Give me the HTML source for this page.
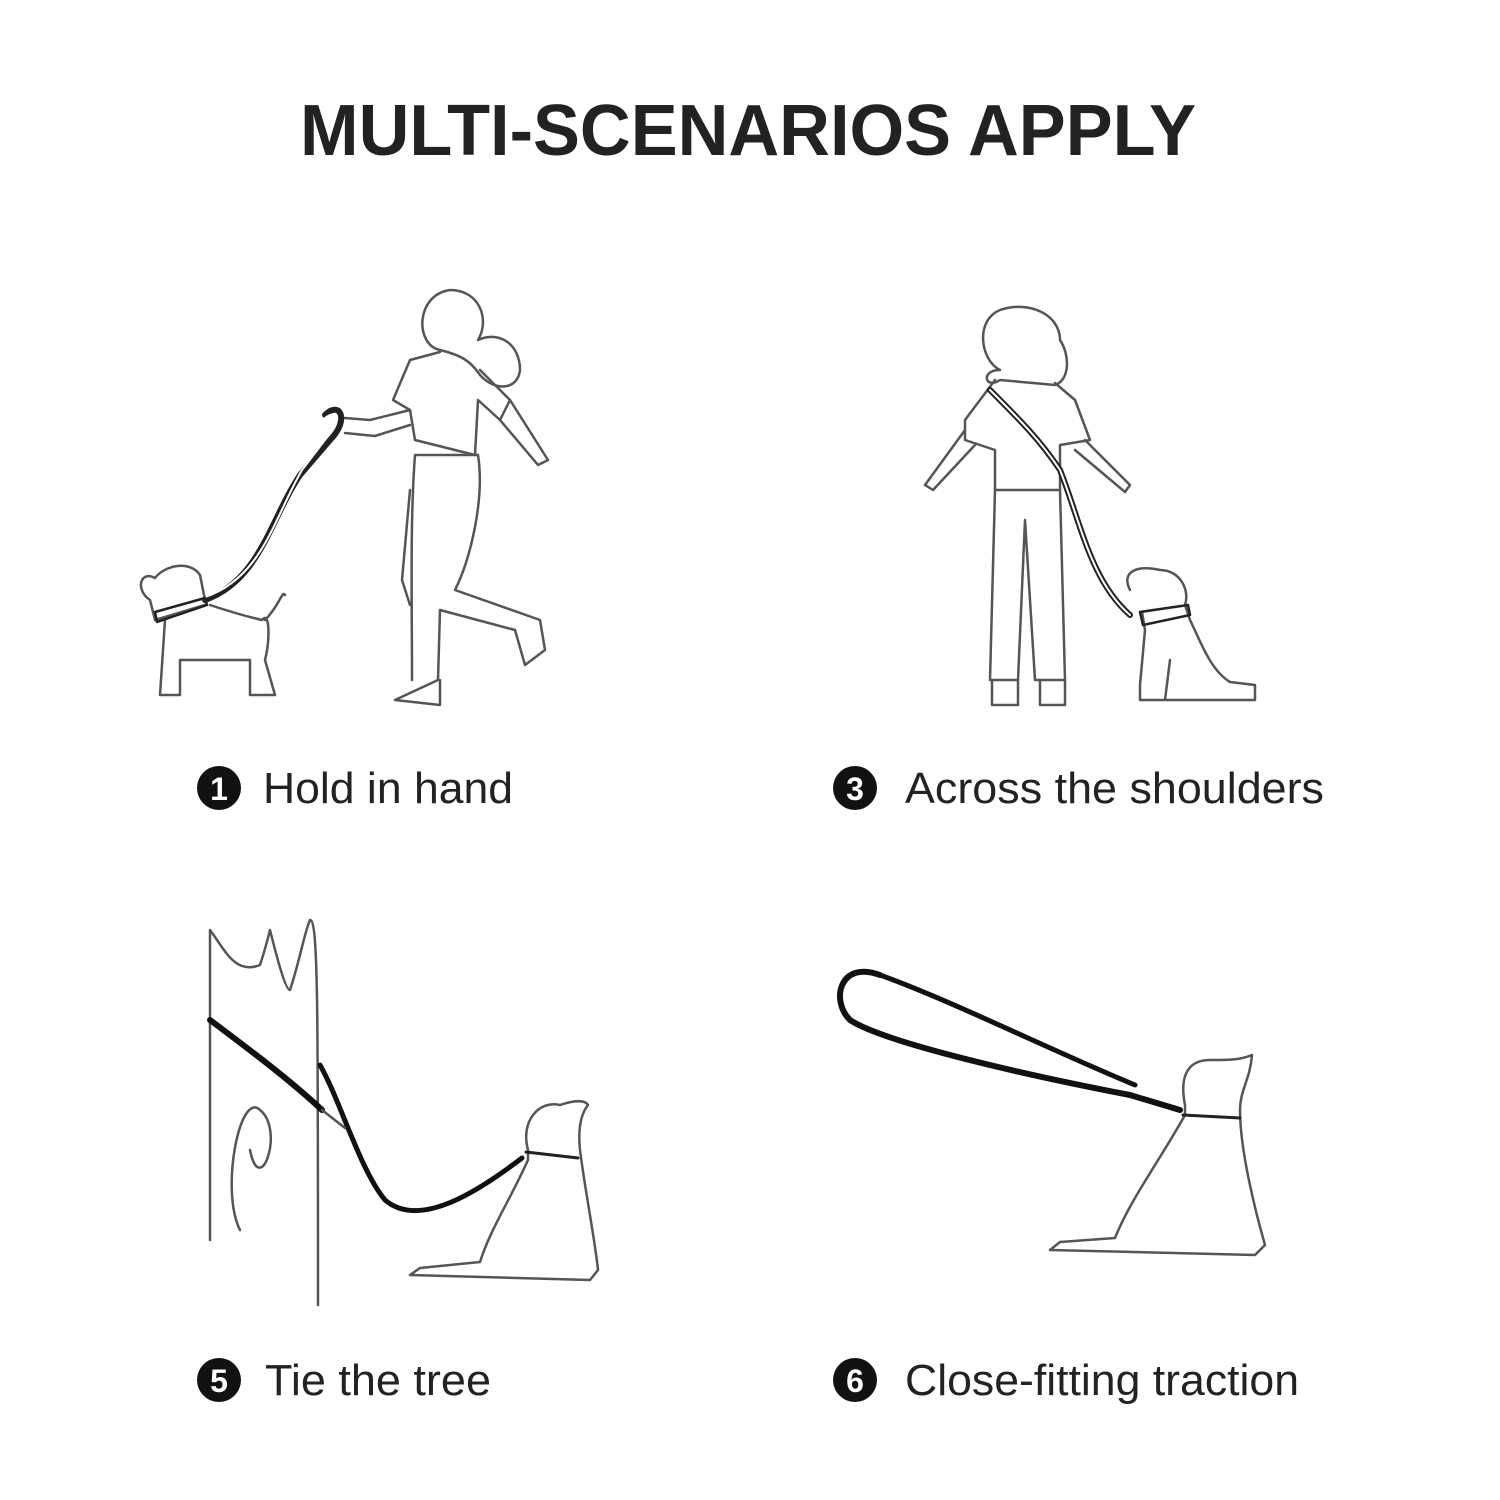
<!DOCTYPE html>
<html><head><style>
html,body{margin:0;padding:0;background:#fff;}
svg{display:block;}
</style></head><body>
<svg width="1500" height="1500" viewBox="0 0 1500 1500" xmlns="http://www.w3.org/2000/svg">
<rect width="1500" height="1500" fill="#fff"/>
<text x="748" y="155" text-anchor="middle" font-family="Liberation Sans, sans-serif" font-weight="bold" font-size="72" fill="#222" textLength="896" lengthAdjust="spacingAndGlyphs">MULTI-SCENARIOS APPLY</text>

<g fill="none" stroke="#555" stroke-width="2.5" stroke-linejoin="round" stroke-linecap="round">
<path d="M440 350 C415 345 415 295 450 290 C480 290 490 320 478 340 C500 330 520 345 520 370 C518 390 495 392 480 375 C470 360 460 355 440 350Z"/>
<path d="M440 352 L410 360 L393 400 L410 410 L415 440 L475 455 L478 400 L500 420 L510 400 L480 370"/>
<path d="M410 410 L370 420 L345 418 M410 425 L375 436 L345 433"/>
<path d="M500 420 L538 465 L548 460 L510 400"/>
<path d="M415 455 L478 455 C485 500 470 560 455 590 L540 620 L545 650 L525 665 L515 630 L440 610 L438 680 L395 700 L440 705 L440 680 M415 455 C410 520 412 600 412 680"/>
<path d="M410 490 L402 580 L410 605"/>
<path d="M325 415 C340 400 350 420 330 440 L300 475 C270 520 260 580 205 600" stroke="#222" stroke-width="6"/>
<path d="M325 418 C338 408 342 420 328 436 L302 470 C274 518 262 578 205 597" stroke="#fff" stroke-width="2"/>
<path d="M155 578 C140 570 135 590 150 600 L155 620 L205 605 M155 578 C165 565 190 560 200 575 L205 600 M165 620 L160 695 L180 695 L180 660 L250 660 L250 695 L275 695 L265 660 C270 640 270 610 262 620 C240 615 225 610 210 605 M265 620 C280 605 282 590 285 595"/>
<path d="M155 612 L205 598 L207 605 L157 622Z" stroke="#222"/>

<path d="M1000 370 C980 360 975 320 1000 310 C1030 300 1060 315 1060 340 C1070 355 1070 380 1055 385 L1000 380 C985 390 980 370 1000 370Z"/>
<path d="M995 380 L965 420 L965 440 L995 450 L995 490 L1060 490 L1060 445 L1090 440 L1075 400 L1055 383"/>
<path d="M965 430 L925 485 L933 490 L975 445 M1085 440 L1130 485 L1125 492 L1075 450"/>
<path d="M995 490 L990 680 L1018 680 L1025 520 L1035 680 L1065 680 L1060 490"/>
<path d="M992 680 L992 705 L1018 705 L1018 680 M1040 680 L1040 705 L1065 705 L1065 680"/>
<path d="M990 390 C1020 420 1040 440 1060 470 C1080 520 1090 580 1130 615" stroke="#222" stroke-width="6"/>
<path d="M990 390 C1020 420 1040 440 1060 470 C1080 520 1090 580 1130 615" stroke="#fff" stroke-width="2"/>
<path d="M1130 590 C1120 570 1140 565 1160 570 C1180 570 1190 590 1185 605 L1190 620 C1200 640 1210 670 1230 682 L1255 685 L1255 700 L1140 700 L1140 685 L1145 630 L1142 612 M1165 700 L1170 660"/>
<path d="M1140 612 L1188 605 L1190 615 L1143 625Z" stroke="#222"/>

<path d="M210 930 L210 1240 M210 930 C225 950 235 975 260 965 C265 950 270 930 270 930 C275 950 285 990 290 990 C300 960 305 930 310 920 C318 920 318 1000 318 1305"/>
<path d="M240 1230 C220 1190 240 1090 260 1110 C285 1130 260 1200 250 1150"/>
<path d="M210 1020 C250 1050 290 1080 322 1110" stroke="#111" stroke-width="6"/>
<path d="M320 1065 C340 1100 360 1170 385 1200 C420 1230 480 1190 522 1158" stroke="#111" stroke-width="5"/>
<path d="M322 1110 L345 1128"/>
<path d="M528 1150 C520 1120 540 1100 560 1105 C575 1100 585 1100 588 1105 C580 1115 578 1130 580 1150 C585 1190 595 1240 598 1270 L590 1280 L410 1275 L420 1268 L480 1262 C490 1230 510 1200 528 1160 Z"/>
<path d="M526 1152 L578 1158" stroke="#222" stroke-width="3"/>

<path d="M880 975 C840 960 830 1000 850 1020 C880 1040 1000 1070 1130 1095 L1180 1110" stroke="#111" stroke-width="6"/>
<path d="M880 975 C950 1000 1050 1050 1135 1085" stroke="#111" stroke-width="5"/>
<path d="M1185 1105 C1180 1080 1185 1060 1210 1060 C1230 1060 1240 1060 1252 1055 C1250 1080 1240 1090 1240 1110 C1240 1150 1255 1210 1265 1245 L1255 1255 L1050 1250 L1060 1242 L1115 1238 C1130 1200 1160 1160 1185 1115 Z"/>
<path d="M1183 1115 L1240 1118" stroke="#222" stroke-width="3"/>
</g>

<g font-family="Liberation Sans, sans-serif">
<circle cx="219" cy="788" r="22" fill="#111"/><text x="219" y="800" text-anchor="middle" fill="#fff" font-size="32" font-weight="bold">1</text>
<text x="263" y="803" font-size="44" fill="#222" textLength="250" lengthAdjust="spacingAndGlyphs">Hold in hand</text>
<circle cx="855" cy="788" r="22" fill="#111"/><text x="855" y="800" text-anchor="middle" fill="#fff" font-size="32" font-weight="bold">3</text>
<text x="905" y="803" font-size="44" fill="#222" textLength="419" lengthAdjust="spacingAndGlyphs">Across the shoulders</text>
<circle cx="219" cy="1380" r="22" fill="#111"/><text x="219" y="1392" text-anchor="middle" fill="#fff" font-size="32" font-weight="bold">5</text>
<text x="265" y="1395" font-size="44" fill="#222" textLength="226" lengthAdjust="spacingAndGlyphs">Tie the tree</text>
<circle cx="855" cy="1380" r="22" fill="#111"/><text x="855" y="1392" text-anchor="middle" fill="#fff" font-size="32" font-weight="bold">6</text>
<text x="905" y="1395" font-size="44" fill="#222" textLength="394" lengthAdjust="spacingAndGlyphs">Close-fitting traction</text>
</g>
</svg>
</body></html>
